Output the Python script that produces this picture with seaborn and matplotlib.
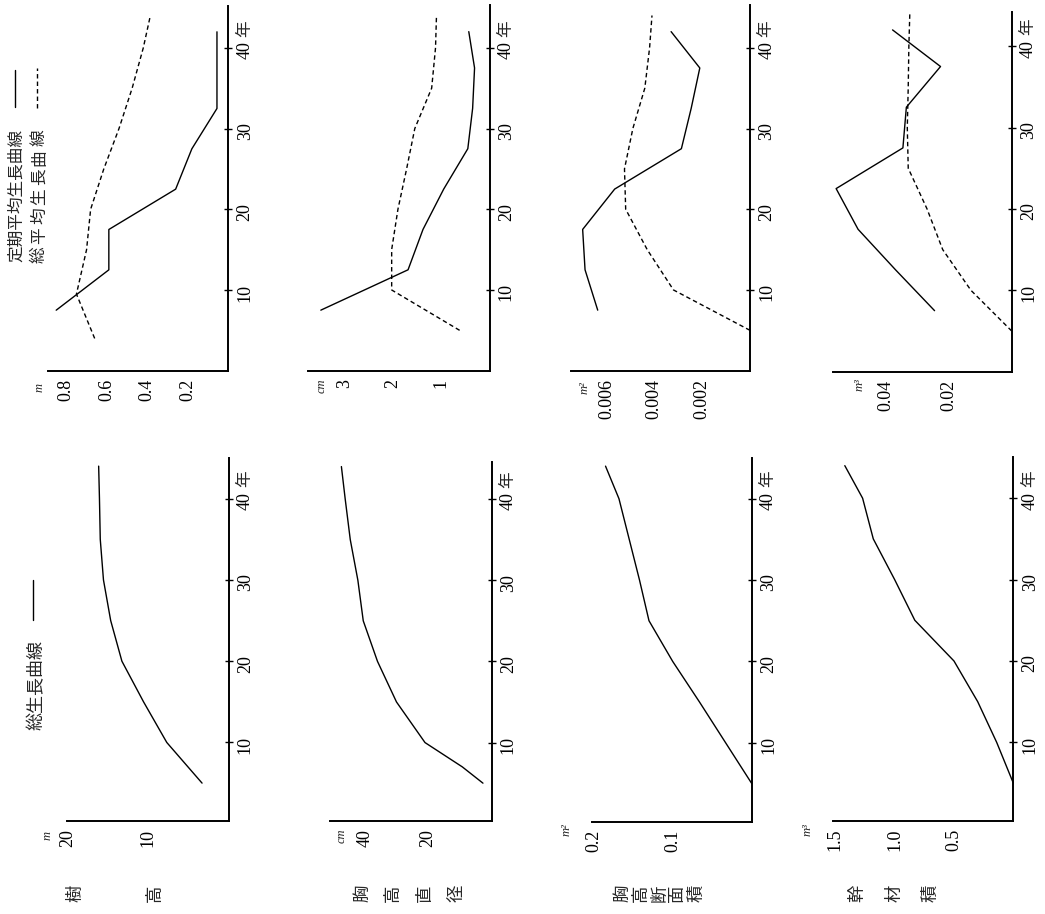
import matplotlib
matplotlib.use("Agg")
import matplotlib.pyplot as plt
import seaborn as sns
import pandas as pd
from matplotlib.lines import Line2D

# ---------------- data ----------------
ages_total = [5, 10, 15, 20, 25, 30, 35, 40, 44]
height_total = [3.3, 7.7, 10.6, 13.3, 14.7, 15.6, 16.0, 16.1, 16.2]
dbh_ages = [5, 7, 10, 15, 20, 25, 30, 35, 40, 44]
dbh_total = [2.7, 9.2, 21.0, 30.0, 36.0, 40.5, 42.2, 44.6, 46.2, 47.4]
ba_total = [0.0, 0.033, 0.066, 0.100, 0.130, 0.142, 0.155, 0.168, 0.185]
vol_total = [0.0, 0.14, 0.30, 0.50, 0.83, 1.00, 1.18, 1.27, 1.42]

ages_periodic = [7.5, 12.5, 17.5, 22.5, 27.5, 32.5, 37.5, 42]
height_periodic = [0.85, 0.59, 0.59, 0.26, 0.18, 0.056, 0.056, 0.056]
dbh_periodic = [3.5, 1.69, 1.38, 0.95, 0.45, 0.35, 0.31, 0.43]
ba_periodic = [0.00637, 0.0069, 0.0070, 0.00566, 0.00287, 0.00246, 0.0021, 0.0033]
vol_periodic = [0.0246, 0.037, 0.049, 0.056, 0.0347, 0.0336, 0.0227, 0.038]

height_mean_ages = [4, 9.5, 15, 20, 25, 30, 35, 40, 44]
height_mean = [0.66, 0.75, 0.70, 0.68, 0.615, 0.54, 0.475, 0.42, 0.385]
dbh_mean = [0.62, 2.03, 2.03, 1.90, 1.72, 1.55, 1.20, 1.12, 1.10]
ba_mean = [0.0, 0.0032, 0.0043, 0.0052, 0.00525, 0.0049, 0.0044, 0.0042, 0.0041]
vol_mean = [0.0, 0.013, 0.022, 0.027, 0.033, 0.0333, 0.0330, 0.0328, 0.0325]

age_ticks = [10, 20, 30, 40]
age_ticklabels = ["10", "20", "30", "40"]
row_labels = ["樹高", "胸高直径", "胸高断面積", "幹材積"]
legend_total = "総生長曲線"
legend_periodic = "定期平均生長曲線"
legend_mean = "総平均生長曲線"
year_unit = "年"

# ---------------- style ----------------
sns.set_style("white")
plt.rcParams["font.family"] = ["Liberation Serif", "Noto Sans CJK JP"]
CJK = ["Noto Sans CJK JP", "DejaVu Sans"]

W, H = 1045, 914
fig = plt.figure(figsize=(W / 100, H / 100), dpi=100)


def rect(l, r, t, b):
    return [l / W, 1 - b / H, (r - l) / W, (b - t) / H]


def ftext(x, y, s, **kw):
    fig.text(x / W, 1 - y / H, s, rotation=90, ha="center", va="center", **kw)


LW = 1.0
DASH = (0, (3.2, 2.2))


def make_axes(r, xlim, ylim, xticks, xlabels):
    ax = fig.add_axes(rect(*r))
    ax.set_facecolor("none")
    for s in ["top", "left"]:
        ax.spines[s].set_visible(False)
    for s in ["right", "bottom"]:
        ax.spines[s].set_linewidth(1.4)
        ax.spines[s].set_color("black")
    ax.yaxis.tick_right()
    ax.set_xlim(*xlim)
    ax.set_ylim(*ylim)
    ax.set_xticks(xticks)
    ax.set_xticklabels(xlabels)
    ax.set_yticks(age_ticks)
    ax.set_yticklabels(age_ticklabels)
    ax.tick_params(axis="both", direction="inout", length=6, width=1.0,
                   labelsize=13, pad=3, colors="black")
    ax.tick_params(axis="x", labelrotation=90)
    ax.tick_params(axis="y", labelrotation=90, left=False, right=True)
    ax.annotate(year_unit, xy=(1, 42.4), xycoords=("axes fraction", "data"),
                xytext=(5.5, 0), textcoords="offset points", rotation=90,
                ha="left", va="center", fontsize=12, family=CJK)
    return ax


def draw(ax, ages, vals, dashed=False):
    df = pd.DataFrame({"age": ages, "val": vals})
    sns.lineplot(data=df, x="val", y="age", orient="y", estimator=None,
                 color="black", linewidth=LW,
                 linestyle=DASH if dashed else "-", ax=ax, clip_on=False)
    ax.set_xlabel("")
    ax.set_ylabel("")


# ---------- strip 1: 樹高 ----------
a = make_axes((48.3, 228.3, 6, 370.7), (0.889, 0), (0, 45.2),
              [0.8, 0.6, 0.4, 0.2], ["0.8", "0.6", "0.4", "0.2"])
draw(a, ages_periodic, height_periodic)
draw(a, height_mean_ages, height_mean, dashed=True)
a = make_axes((67, 228.5, 458, 820.5), (20.15, 0), (0.4, 45),
              [20, 10], ["20", "10"])
draw(a, ages_total, height_total)

# ---------- strip 2: 胸高直径 ----------
a = make_axes((308.3, 489.5, 5, 370.7), (3.76, 0), (0, 45.3),
              [3, 2, 1], ["3", "2", "1"])
draw(a, ages_periodic, dbh_periodic)
draw(a, ages_total, dbh_mean, dashed=True)
a = make_axes((330, 491.5, 461.7, 820.5), (51, 0), (0.4, 44.6),
              [40, 30, 20, 10], ["40", "", "20", ""])
draw(a, dbh_ages, dbh_total)

# ---------- strip 3: 胸高断面積 ----------
a = make_axes((570.7, 750, 5, 370.7), (0.0075, 0), (0, 45.3),
              [0.007, 0.006, 0.005, 0.004, 0.003, 0.002, 0.001],
              ["", "0.006", "", "0.004", "", "0.002", ""])
draw(a, ages_periodic, ba_periodic)
draw(a, ages_total, ba_mean, dashed=True)
a = make_axes((591.7, 751.7, 458, 821.7), (0.2025, 0), (0.3, 45),
              [0.2, 0.1], ["0.2", "0.1"])
draw(a, ages_total, ba_total)

# ---------- strip 4: 幹材積 ----------
a = make_axes((833.3, 1011.7, 12, 371.7), (0.0569, 0), (0, 44.2),
              [0.05, 0.04, 0.03, 0.02, 0.01], ["", "0.04", "", "0.02", ""])
draw(a, ages_periodic, vol_periodic)
draw(a, ages_total, vol_mean, dashed=True)
a = make_axes((833.3, 1013.3, 456.7, 820.5), (1.517, 0), (0.4, 45.1),
              [1.5, 1.0, 0.5], ["1.5", "1.0", "0.5"])
draw(a, ages_total, vol_total)

# ---------- unit labels ----------
units = [("m", 40, 388), ("m", 48, 836), ("cm", 322, 386), ("cm", 342, 836),
         ("m²", 585, 388), ("m²", 567, 830), ("m³", 860, 385), ("m³", 808, 830)]
for s, x, y in units:
    ftext(x, y, s, fontsize=9, style="italic")

# ---------- row labels ----------
row_x = [[75, 155], [362, 393, 425, 457], [622, 640.5, 659, 677.5, 696],
         [857, 895, 930]]
for lab, xs in zip(row_labels, row_x):
    for ch, x in zip(lab, xs):
        ftext(x, 893, ch, fontsize=12.5, family=CJK)

# ---------- legends ----------
ftext(17, 195.5, legend_periodic, fontsize=12, family=CJK)
fig.add_artist(Line2D([15 / W, 15 / W], [1 - 107 / H, 1 - 70 / H],
                      color="black", linewidth=LW))
for i, ch in enumerate(legend_mean):
    ftext(39.5, 255 - 19.5 * i, ch, fontsize=12, family=CJK)
fig.add_artist(Line2D([37 / W, 37 / W], [1 - 108 / H, 1 - 68 / H],
                      color="black", linewidth=LW, linestyle=DASH))
ftext(37, 685, legend_total, fontsize=13, family=CJK)
fig.add_artist(Line2D([33 / W, 33 / W], [1 - 620 / H, 1 - 580 / H],
                      color="black", linewidth=LW))

fig.savefig("out.png", dpi=100, facecolor="white")
